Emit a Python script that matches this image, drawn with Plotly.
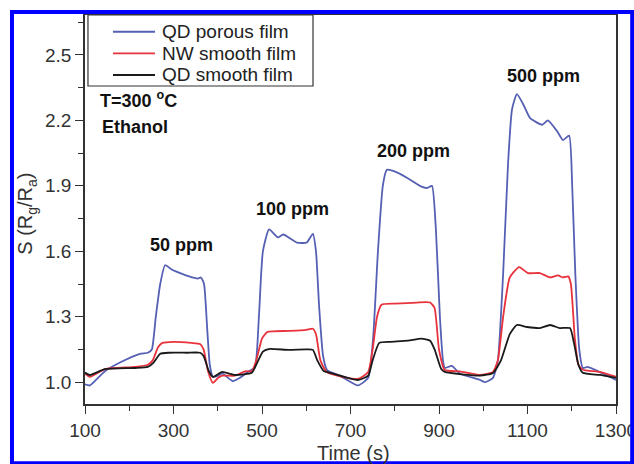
import plotly.graph_objects as go

# ---- data ----
t_qd_porous = [100, 111, 145, 179, 224, 242, 251, 260, 270, 281, 297, 321, 342, 355, 362, 369, 376, 382, 389,
               401, 410, 434, 450, 468, 484, 493, 502, 516, 536, 548, 579, 601, 615, 622, 629, 638, 647, 676,
               717, 740, 751, 762, 773, 782, 812, 841, 857, 873, 884, 893, 902, 909, 913, 929, 947, 993, 1004,
               1022, 1033, 1045, 1056, 1065, 1076, 1090, 1106, 1133, 1146, 1167, 1180, 1194, 1201, 1208, 1217,
               1225, 1236, 1270, 1300]
s_qd_porous = [0.99, 0.985, 1.05, 1.09, 1.13, 1.135, 1.15, 1.30, 1.45, 1.536, 1.515, 1.495, 1.48, 1.475, 1.48,
               1.45, 1.25, 1.08, 1.025, 1.03, 1.04, 1.005, 1.02, 1.047, 1.07, 1.30, 1.60, 1.70, 1.664, 1.677,
               1.64, 1.64, 1.68, 1.60, 1.35, 1.12, 1.056, 1.03, 0.985, 1.02, 1.20, 1.60, 1.90, 1.973, 1.955,
               1.92, 1.90, 1.89, 1.90, 1.70, 1.30, 1.10, 1.065, 1.075, 1.04, 1.01, 1.0, 1.02, 1.10, 1.50, 2.0,
               2.25, 2.32, 2.275, 2.21, 2.18, 2.20, 2.15, 2.11, 2.13, 1.90, 1.50, 1.15, 1.065, 1.07, 1.04, 1.01]

t_nw_smooth = [100, 111, 145, 213, 242, 253, 265, 275, 300, 340, 360, 368, 378, 389, 401, 410, 439, 462, 477,
               487, 500, 512, 560, 600, 615, 622, 632, 647, 717, 740, 750, 760, 770, 800, 850, 880, 890, 900,
               913, 947, 993, 1022, 1033, 1045, 1060, 1081, 1101, 1128, 1151, 1169, 1180, 1192, 1198, 1207,
               1215, 1225, 1263, 1300]
s_nw_smooth = [1.04, 1.025, 1.06, 1.07, 1.08, 1.10, 1.16, 1.18, 1.185, 1.18, 1.175, 1.15, 1.05, 0.997, 1.02,
               1.03, 1.03, 1.05, 1.05, 1.10, 1.20, 1.23, 1.235, 1.24, 1.245, 1.22, 1.10, 1.045, 1.015, 1.047,
               1.15, 1.30, 1.355, 1.36, 1.365, 1.365, 1.34, 1.15, 1.056, 1.05, 1.033, 1.047, 1.10, 1.30, 1.48,
               1.527, 1.50, 1.50, 1.48, 1.49, 1.48, 1.485, 1.45, 1.20, 1.08, 1.057, 1.047, 1.025]

t_qd_smooth = [100, 111, 145, 213, 242, 255, 270, 290, 330, 360, 368, 380, 389, 410, 439, 477, 487, 502, 515,
               560, 600, 615, 625, 640, 647, 717, 740, 750, 765, 790, 830, 860, 880, 890, 905, 913, 993, 1022,
               1040, 1060, 1076, 1099, 1128, 1151, 1173, 1196, 1205, 1215, 1225, 1263, 1300]
s_qd_smooth = [1.044, 1.033, 1.06, 1.065, 1.07, 1.09, 1.13, 1.135, 1.135, 1.135, 1.12, 1.05, 1.024, 1.047,
               1.033, 1.043, 1.08, 1.14, 1.152, 1.148, 1.15, 1.148, 1.10, 1.05, 1.047, 1.01, 1.03, 1.10, 1.18,
               1.185, 1.19, 1.20, 1.19, 1.15, 1.06, 1.047, 1.03, 1.042, 1.10, 1.22, 1.262, 1.253, 1.248, 1.262,
               1.248, 1.248, 1.18, 1.08, 1.043, 1.033, 1.02]

series_names = ["QD porous film", "NW smooth film", "QD smooth film"]
series_colors = ["#5560b4", "#e8323c", "#1a1a1a"]

conc_labels = ["50 ppm", "100 ppm", "200 ppm", "500 ppm"]
conc_t = [319, 569, 842, 1137]
conc_s = [1.629, 1.794, 2.06, 2.404]

x_ticks = [100, 300, 500, 700, 900, 1100, 1300]
y_ticks = [1.0, 1.3, 1.6, 1.9, 2.2, 2.5]

# ---- figure ----
fig = go.Figure()
for t, s, name, col in zip([t_qd_porous, t_nw_smooth, t_qd_smooth],
                           [s_qd_porous, s_nw_smooth, s_qd_smooth],
                           series_names, series_colors):
    fig.add_trace(go.Scatter(x=t, y=s, mode="lines", name=name,
                             line=dict(color=col, width=1.8, shape="spline", smoothing=0.5)))

FONT = "Liberation Sans, Arial, sans-serif"
axis_common = dict(showline=True, linecolor="#333333", linewidth=1.5, mirror=True,
                   ticks="outside", ticklen=8, tickwidth=1.3, tickcolor="#333333",
                   showgrid=False, zeroline=False, ticklabeloverflow="allow", automargin=False,
                   tickfont=dict(family=FONT, size=19, color="#333333"))

fig.update_xaxes(range=[100, 1300], tickvals=x_ticks,
                 minor=dict(dtick=100, tick0=100, ticks="outside", ticklen=5, tickcolor="#333333"),
                 **axis_common)
fig.update_yaxes(range=[0.90, 2.683], tickvals=y_ticks, tickformat=".1f",
                 minor=dict(dtick=0.15, tick0=1.0, ticks="outside", ticklen=5, tickcolor="#333333"),
                 **axis_common)

annotations = []
for lab, t, s in zip(conc_labels, conc_t, conc_s):
    annotations.append(dict(x=t, y=s, xref="x", yref="y", text="<b>%s</b>" % lab, showarrow=False,
                            font=dict(family=FONT, size=18, color="#111111"),
                            xanchor="center", yanchor="middle"))
annotations.append(dict(x=129, y=2.294, xref="x", yref="y", text="<b>T=300 <sup>o</sup>C</b>",
                        showarrow=False, font=dict(family=FONT, size=18, color="#111111"),
                        xanchor="left", yanchor="middle"))
annotations.append(dict(x=134, y=2.17, xref="x", yref="y", text="<b>Ethanol</b>",
                        showarrow=False, font=dict(family=FONT, size=18, color="#111111"),
                        xanchor="left", yanchor="middle"))
# axis titles
annotations.append(dict(x=-0.11, y=0.488, xref="paper", yref="paper",
                        text="S (R<sub>g</sub>/R<sub>a</sub>)", textangle=-90, showarrow=False,
                        font=dict(family=FONT, size=20, color="#333333"),
                        xanchor="center", yanchor="middle"))
annotations.append(dict(x=0.505, y=-0.126, xref="paper", yref="paper", text="Time (s)",
                        showarrow=False, font=dict(family=FONT, size=20, color="#333333"),
                        xanchor="center", yanchor="middle"))

# legend drawn as a framed box
shapes = [dict(type="rect", xref="paper", yref="paper", x0=0.0056, x1=0.4294, y0=0.8175, y1=1.0,
               line=dict(color="#333333", width=1.2), fillcolor="white", layer="above")]
leg_y = [0.957, 0.9015, 0.8458]
for name, col, yy in zip(series_names, series_colors, leg_y):
    shapes.append(dict(type="line", xref="paper", yref="paper", x0=0.0527, x1=0.1318, y0=yy, y1=yy,
                       line=dict(color=col, width=1.8), layer="above"))
    annotations.append(dict(x=0.1412, y=yy, xref="paper", yref="paper", text=name, showarrow=False,
                            font=dict(family=FONT, size=19, color="#222222"),
                            xanchor="left", yanchor="middle"))

# blue frame around the whole picture
shapes.append(dict(type="rect", xref="paper", yref="paper", x0=-0.1375, x1=1.0305, y0=-0.152, y1=1.0077,
                   line=dict(color="#0000ff", width=4), layer="above"))

fig.update_layout(width=634, height=464,
                  margin=dict(l=85, r=18, t=15, b=60, autoexpand=False),
                  paper_bgcolor="white", plot_bgcolor="white", showlegend=False,
                  annotations=annotations, shapes=shapes)

fig.write_html("out.html")
